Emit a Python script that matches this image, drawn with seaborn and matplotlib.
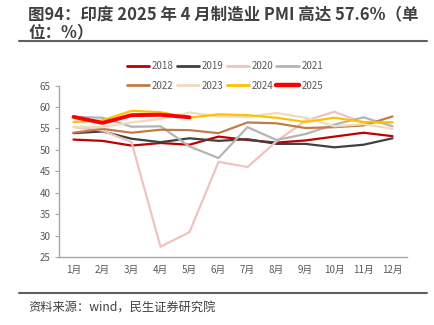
import matplotlib
matplotlib.use("Agg")
import matplotlib.pyplot as plt
import seaborn as sns
import pandas as pd
from matplotlib.lines import Line2D

sns.set_theme(style="white")
plt.rcParams['font.family'] = ['Noto Sans CJK SC', 'DejaVu Sans']

months = ["1月", "2月", "3月", "4月", "5月", "6月", "7月", "8月", "9月", "10月", "11月", "12月"]

pmi_2018 = [52.4, 52.1, 51.0, 51.6, 51.2, 53.1, 52.3, 51.7, 52.2, 53.1, 54.0, 53.2]
pmi_2019 = [53.9, 54.3, 52.6, 51.8, 52.7, 52.1, 52.5, 51.4, 51.4, 50.6, 51.2, 52.7]
pmi_2020 = [55.3, 54.5, 51.8, 27.4, 30.8, 47.2, 46.0, 52.0, 56.8, 58.9, 56.3, 56.4]
pmi_2021 = [57.7, 57.5, 55.4, 55.5, 50.8, 48.1, 55.3, 52.3, 53.7, 55.9, 57.6, 55.5]
pmi_2022 = [54.0, 54.9, 54.0, 54.7, 54.6, 53.9, 56.4, 56.2, 55.1, 55.3, 55.7, 57.8]
pmi_2023 = [55.4, 55.3, 56.4, 57.2, 58.7, 57.8, 57.7, 58.6, 57.5, 55.5, 56.0, 54.9]
pmi_2024 = [56.5, 56.9, 59.1, 58.8, 57.5, 58.3, 58.1, 57.5, 56.5, 57.5, 56.5, 56.4]
pmi_2025 = [57.7, 56.3, 58.1, 58.2, 57.6]

series = {
    "2018": pmi_2018, "2019": pmi_2019, "2020": pmi_2020, "2021": pmi_2021,
    "2022": pmi_2022, "2023": pmi_2023, "2024": pmi_2024, "2025": pmi_2025,
}
colors = {
    "2018": "#C00000", "2019": "#404040", "2020": "#EFC3C0", "2021": "#B4B4B4",
    "2022": "#C07C48", "2023": "#EEDCC0", "2024": "#FFC000", "2025": "#FF0000",
}
widths = {k: 1.6 for k in series}
widths["2025"] = 2.8

fig = plt.figure(figsize=(4.35, 3.25), dpi=100)
ax = fig.add_axes([59 / 435, 1 - 257 / 325, (407 - 59) / 435, (257 - 85.6) / 325])

for year, vals in series.items():
    df = pd.DataFrame({"month": range(len(vals)), "pmi": vals})
    sns.lineplot(data=df, x="month", y="pmi", ax=ax, color=colors[year],
                 linewidth=widths[year], legend=False)

ax.set_xlim(-0.5, 11.5)
ax.set_ylim(25, 65)
ax.set_yticks(range(25, 66, 5))
ax.set_xticks(range(12))
ax.set_xticklabels(months)
ax.set_xlabel("")
ax.set_ylabel("")
for s in ["top", "right"]:
    ax.spines[s].set_visible(False)
for s in ["left", "bottom"]:
    ax.spines[s].set_color("#A6A6A6")
    ax.spines[s].set_linewidth(1.0)
ax.tick_params(axis="y", length=3, width=0.8, color="#A6A6A6", labelsize=7,
               labelcolor="#595959", pad=3, left=True)
ax.tick_params(axis="x", length=0, labelsize=7, labelcolor="#595959", pad=6)

# legend fills column by column, so interleave the two rows
years = list(series.keys())
order = [years[i + 4 * r] for i in range(4) for r in range(2)]
handles = [Line2D([0], [0], color=colors[y], linewidth=widths[y] + 0.4) for y in order]
fig.legend(handles, order, ncol=4, loc="center",
           bbox_to_anchor=(225 / 435, 1 - 76 / 325), frameon=False,
           fontsize=7, handlelength=2.3, handletextpad=0.3, columnspacing=0.3,
           labelspacing=1.0, labelcolor="#595959")

fig.text(28 / 435, 1 - 15 / 325, "图94：印度 2025 年 4 月制造业 PMI 高达 57.6%（单",
         fontsize=11.9, fontweight="bold", color="#404040", va="center", ha="left")
fig.text(28 / 435, 1 - 32 / 325, "位：%）",
         fontsize=11.9, fontweight="bold", color="#404040", va="center", ha="left")
fig.add_artist(Line2D([19 / 435, 427 / 435], [1 - 41 / 325, 1 - 41 / 325],
                      color="#606060", linewidth=1.5))
fig.add_artist(Line2D([19 / 435, 427 / 435], [1 - 293 / 325, 1 - 293 / 325],
                      color="#606060", linewidth=1.5))
fig.text(28 / 435, 1 - 308 / 325, "资料来源：wind，民生证券研究院",
         fontsize=8.8, color="#404040", va="center", ha="left")

fig.savefig("out.png", dpi=100)
